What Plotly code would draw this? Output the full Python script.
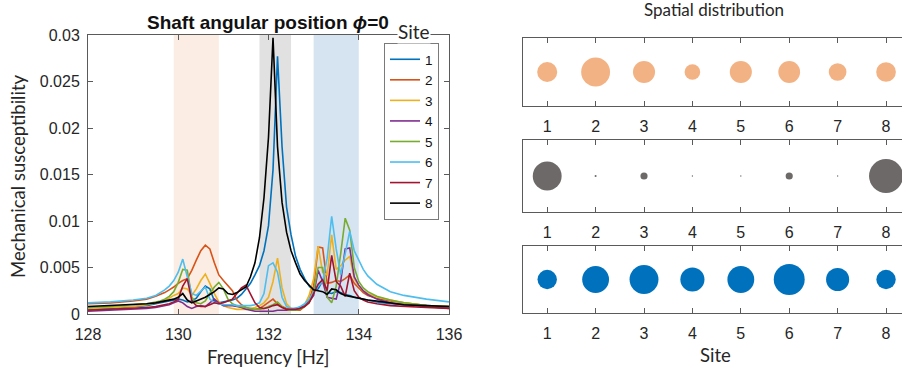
import plotly.graph_objects as go

W, H = 902, 371

freq = [128.0, 128.5, 129.0, 129.3, 129.5,
        129.6, 129.7, 129.8, 129.9, 130.0, 130.1, 130.2, 130.3, 130.4, 130.5,
        130.6, 130.7, 130.8, 130.9, 131.0, 131.1, 131.2, 131.3, 131.4, 131.5,
        131.6, 131.7, 131.8, 131.9, 132.0, 132.1, 132.2, 132.3, 132.4, 132.5,
        132.6, 132.7, 132.8, 132.9, 133.0, 133.1, 133.2, 133.3, 133.4, 133.5,
        133.6, 133.7, 133.8, 133.9, 134.0, 134.1, 134.2,
        134.4, 134.7, 135.0, 135.5, 136.0]

site1 = [0.0005, 0.0006, 0.0008, 0.0009, 0.0011,
         0.0012, 0.0013, 0.0014, 0.0015, 0.0016, 0.0015, 0.0013, 0.0014, 0.0017, 0.0024,
         0.0030, 0.0027, 0.0014, 0.0012, 0.0013, 0.0014, 0.0015, 0.0017, 0.0021, 0.0027,
         0.0033, 0.0042, 0.0052, 0.0068, 0.0095, 0.0155, 0.0277, 0.0180, 0.0115, 0.0085,
         0.0062, 0.0048, 0.0038, 0.0030, 0.0025, 0.0027, 0.0036, 0.0023, 0.0022, 0.0024,
         0.0023, 0.0021, 0.0020, 0.0018, 0.0017, 0.0016, 0.0015,
         0.0013, 0.0011, 0.0010, 0.0009, 0.0008]
site2 = [0.0011, 0.0012, 0.0014, 0.0016, 0.0019,
         0.0021, 0.0023, 0.0026, 0.0029, 0.0033, 0.0036, 0.0038, 0.0047, 0.0058, 0.0068,
         0.0074, 0.0070, 0.0055, 0.0042, 0.0036, 0.0031, 0.0025, 0.0015, 0.0010, 0.0007,
         0.0005, 0.0005, 0.0006, 0.0009, 0.0013, 0.0016, 0.0011, 0.0008, 0.0006, 0.0005,
         0.0004, 0.0004, 0.0008, 0.0015, 0.0030, 0.0072, 0.0071, 0.0033, 0.0034, 0.0036,
         0.0035, 0.0038, 0.0042, 0.0033, 0.0028, 0.0023, 0.0020,
         0.0017, 0.0014, 0.0012, 0.0009, 0.0008]
site3 = [0.0006, 0.0007, 0.0008, 0.0010, 0.0012,
         0.0013, 0.0015, 0.0017, 0.0020, 0.0022, 0.0028, 0.0027, 0.0020, 0.0027, 0.0036,
         0.0043, 0.0033, 0.0022, 0.0013, 0.0009, 0.0007, 0.0006, 0.0005, 0.0005, 0.0005,
         0.0006, 0.0007, 0.0009, 0.0012, 0.0018, 0.0035, 0.0060, 0.0028, 0.0011, 0.0006,
         0.0005, 0.0006, 0.0010, 0.0020, 0.0038, 0.0073, 0.0045, 0.0042, 0.0085, 0.0048,
         0.0052, 0.0058, 0.0062, 0.0038, 0.0030, 0.0025, 0.0022,
         0.0018, 0.0015, 0.0012, 0.0009, 0.0008]
site4 = [0.0003, 0.0004, 0.0005, 0.0006, 0.0007,
         0.0008, 0.0009, 0.0010, 0.0012, 0.0014, 0.0012, 0.0008, 0.0006, 0.0008, 0.0009,
         0.0008, 0.0012, 0.0016, 0.0012, 0.0009, 0.0009, 0.0009, 0.0008, 0.0007, 0.0005,
         0.0004, 0.0003, 0.0003, 0.0003, 0.0003, 0.0003, 0.0004, 0.0004, 0.0004, 0.0005,
         0.0006, 0.0007, 0.0009, 0.0013, 0.0020, 0.0047, 0.0035, 0.0018, 0.0017, 0.0016,
         0.0035, 0.0070, 0.0071, 0.0040, 0.0031, 0.0025, 0.0021,
         0.0016, 0.0012, 0.0010, 0.0008, 0.0006]
site5 = [0.0007, 0.0008, 0.0010, 0.0011, 0.0013,
         0.0014, 0.0016, 0.0019, 0.0024, 0.0034, 0.0048, 0.0047, 0.0018, 0.0012, 0.0011,
         0.0014, 0.0022, 0.0029, 0.0034, 0.0027, 0.0016, 0.0011, 0.0009, 0.0008, 0.0007,
         0.0006, 0.0005, 0.0005, 0.0006, 0.0008, 0.0010, 0.0013, 0.0008, 0.0005, 0.0004,
         0.0004, 0.0005, 0.0008, 0.0012, 0.0025, 0.0050, 0.0050, 0.0018, 0.0012, 0.0030,
         0.0065, 0.0103, 0.0090, 0.0050, 0.0035, 0.0028, 0.0024,
         0.0019, 0.0015, 0.0012, 0.0009, 0.0008]
site6 = [0.0012, 0.0013, 0.0015, 0.0017, 0.0020,
         0.0023, 0.0026, 0.0030, 0.0036, 0.0045, 0.0059, 0.0040, 0.0022, 0.0020, 0.0025,
         0.0029, 0.0016, 0.0012, 0.0011, 0.0010, 0.0010, 0.0010, 0.0009, 0.0009, 0.0009,
         0.0009, 0.0010, 0.0012, 0.0022, 0.0052, 0.0055, 0.0045, 0.0018, 0.0008, 0.0006,
         0.0006, 0.0008, 0.0011, 0.0016, 0.0024, 0.0030, 0.0035, 0.0060, 0.0105, 0.0070,
         0.0042, 0.0065, 0.0089, 0.0068, 0.0058, 0.0048, 0.0041,
         0.0032, 0.0024, 0.0020, 0.0016, 0.0013]
site7 = [0.0004, 0.0005, 0.0006, 0.0007, 0.0008,
         0.0009, 0.0010, 0.0011, 0.0013, 0.0016, 0.0030, 0.0038, 0.0014, 0.0009, 0.0008,
         0.0008, 0.0010, 0.0012, 0.0011, 0.0012, 0.0014, 0.0016, 0.0022, 0.0028, 0.0031,
         0.0022, 0.0012, 0.0007, 0.0006, 0.0007, 0.0009, 0.0010, 0.0007, 0.0005, 0.0005,
         0.0005, 0.0006, 0.0008, 0.0012, 0.0022, 0.0032, 0.0037, 0.0025, 0.0063, 0.0035,
         0.0030, 0.0019, 0.0044, 0.0025, 0.0018, 0.0015, 0.0013,
         0.0011, 0.0009, 0.0008, 0.0007, 0.0006]
site8 = [0.0008, 0.0009, 0.0010, 0.0011, 0.0012,
         0.0013, 0.0014, 0.0015, 0.0016, 0.0018, 0.0022, 0.0015, 0.0012, 0.0014, 0.0016,
         0.0018, 0.0021, 0.0024, 0.0028, 0.0027, 0.0022, 0.0021, 0.0023, 0.0026, 0.0029,
         0.0040, 0.0055, 0.0082, 0.0125, 0.0190, 0.0297, 0.0180, 0.0120, 0.0088, 0.0068,
         0.0055, 0.0043, 0.0036, 0.0031, 0.0026, 0.0025, 0.0024, 0.0021, 0.0027, 0.0026,
         0.0022, 0.0020, 0.0019, 0.0018, 0.0017, 0.0016, 0.0015,
         0.0014, 0.0012, 0.0010, 0.0009, 0.0008]

series = [site1, site2, site3, site4, site5, site6, site7, site8]
site_names = ["1", "2", "3", "4", "5", "6", "7", "8"]
line_colors = ["#0072BD", "#D95319", "#EDB120", "#7E2F8E",
               "#77AC30", "#4DBEEE", "#A2142F", "#000000"]

# frequency bands (Hz)
band_lo = [129.9, 131.8, 133.0]
band_hi = [130.9, 132.5, 134.0]
band_colors = ["#FBEDE3", "#E1E1E1", "#D6E3F0"]

# spatial distribution (relative amplitude per site) for each band
sites = [1, 2, 3, 4, 5, 6, 7, 8]
amp_band1 = [0.59, 0.85, 0.65, 0.46, 0.65, 0.64, 0.52, 0.58]
amp_band2 = [0.85, 0.06, 0.21, 0.04, 0.04, 0.21, 0.04, 1.00]
amp_band3 = [0.57, 0.79, 0.85, 0.71, 0.79, 0.91, 0.68, 0.57]
bubble_colors = ["#F3B283", "#6E6969", "#0072BD"]
SIZE_SCALE = 34

TXT = "#262626"
AX = "#5a5a5a"
TICKFONT = dict(family="Liberation Sans, Arial", size=16, color=TXT)
LABELFONT = dict(family="Lato", size=18.5, color=TXT)

fig = go.Figure()

for i, ys in enumerate(series):
    fig.add_trace(go.Scatter(
        x=freq, y=ys, mode="lines", name=site_names[i],
        line=dict(color=line_colors[i], width=1.6),
        xaxis="x", yaxis="y"))

for k, amps in enumerate([amp_band1, amp_band2, amp_band3]):
    fig.add_trace(go.Scatter(
        x=sites, y=[0] * len(sites), mode="markers", showlegend=False,
        marker=dict(size=[a * SIZE_SCALE for a in amps], color=bubble_colors[k],
                    line=dict(width=0), opacity=1),
        cliponaxis=False,
        xaxis="x%d" % (k + 2), yaxis="y%d" % (k + 2)))

shapes = []
for lo, hi, c in zip(band_lo, band_hi, band_colors):
    shapes.append(dict(type="rect", xref="x", yref="y domain", x0=lo, x1=hi,
                       y0=0, y1=1, fillcolor=c, line=dict(width=0), layer="below"))


def px_x(p):
    return p / W


def px_y(p):
    return 1 - p / H


left_dom_x = [px_x(88), px_x(449)]
left_dom_y = [px_y(314), px_y(35)]
right_dom_x = [px_x(523), 1.0]
panel_dom_y = [[px_y(106), px_y(38)], [px_y(212), px_y(140)], [px_y(313), px_y(246)]]

layout = dict(
    width=W, height=H,
    margin=dict(l=0, r=0, t=0, b=0, pad=0, autoexpand=False),
    paper_bgcolor="white", plot_bgcolor="white",
    showlegend=True,
    shapes=shapes,
    xaxis=dict(domain=left_dom_x, anchor="y", range=[128, 136],
               tickvals=[128, 130, 132, 134, 136],
               ticks="inside", ticklen=5, tickcolor=AX, showline=True,
               linecolor=AX, linewidth=1, mirror="ticks", showgrid=False,
               zeroline=False, tickfont=TICKFONT, ticklabelstandoff=6,
               automargin=False),
    yaxis=dict(domain=left_dom_y, anchor="x", range=[0, 0.03],
               tickvals=[0, 0.005, 0.01, 0.015, 0.02, 0.025, 0.03],
               ticktext=["0", "0.005", "0.01", "0.015", "0.02", "0.025", "0.03"],
               ticks="inside", ticklen=5, tickcolor=AX, showline=True,
               linecolor=AX, linewidth=1, mirror="ticks", showgrid=False,
               zeroline=False, tickfont=TICKFONT, ticklabelstandoff=4,
               automargin=False),
    legend=dict(x=px_x(439), y=px_y(43), xanchor="right", yanchor="top",
                bgcolor="white", bordercolor="#7a7a7a", borderwidth=1,
                font=dict(family="Liberation Sans, Arial", size=13.5, color="#111"),
                itemwidth=30),
)

for k in range(3):
    n = k + 2
    layout["xaxis%d" % n] = dict(
        domain=right_dom_x, anchor="y%d" % n, range=[0.5, 8.33],
        tickvals=sites, ticks="inside", ticklen=5, tickcolor=AX,
        showline=True, linecolor=AX, linewidth=1, mirror="ticks",
        showgrid=False, zeroline=False, tickfont=TICKFONT, ticklabelstandoff=6,
        automargin=False)
    layout["yaxis%d" % n] = dict(
        domain=panel_dom_y[k], anchor="x%d" % n, range=[-1, 1],
        showticklabels=False, ticks="", showline=True, linecolor=AX,
        linewidth=1, mirror=True, showgrid=False, zeroline=False,
        automargin=False)

annotations = [
    dict(text="<b>Shaft angular position </b><b><i>ϕ</i>=0</b>", x=px_x(268), y=px_y(22),
         xref="paper", yref="paper", showarrow=False, xanchor="center", yanchor="middle",
         font=dict(family="Liberation Sans, Arial", size=19, color="#111")),
    dict(text="Mechanical susceptibility", x=px_x(18), y=px_y(176), textangle=-90,
         xref="paper", yref="paper", showarrow=False, xanchor="center", yanchor="middle",
         font=LABELFONT),
    dict(text="Frequency [Hz]", x=px_x(268), y=px_y(357),
         xref="paper", yref="paper", showarrow=False, xanchor="center", yanchor="middle",
         font=LABELFONT),
    dict(text="Spatial distribution", x=px_x(714), y=px_y(-3),
         xref="paper", yref="paper", showarrow=False, xanchor="center", yanchor="top",
         font=dict(family="Lato", size=17, color=TXT)),
    dict(text="Site", x=px_x(715), y=px_y(355),
         xref="paper", yref="paper", showarrow=False, xanchor="center", yanchor="middle",
         font=LABELFONT),
    dict(text="Site", x=px_x(414), y=px_y(32),
         xref="paper", yref="paper", showarrow=False, xanchor="center", yanchor="middle",
         bgcolor="white", borderpad=0,
         font=dict(family="Lato", size=19, color=TXT)),
]
layout["annotations"] = annotations

fig.update_layout(**layout)
fig.write_html("out.html")
